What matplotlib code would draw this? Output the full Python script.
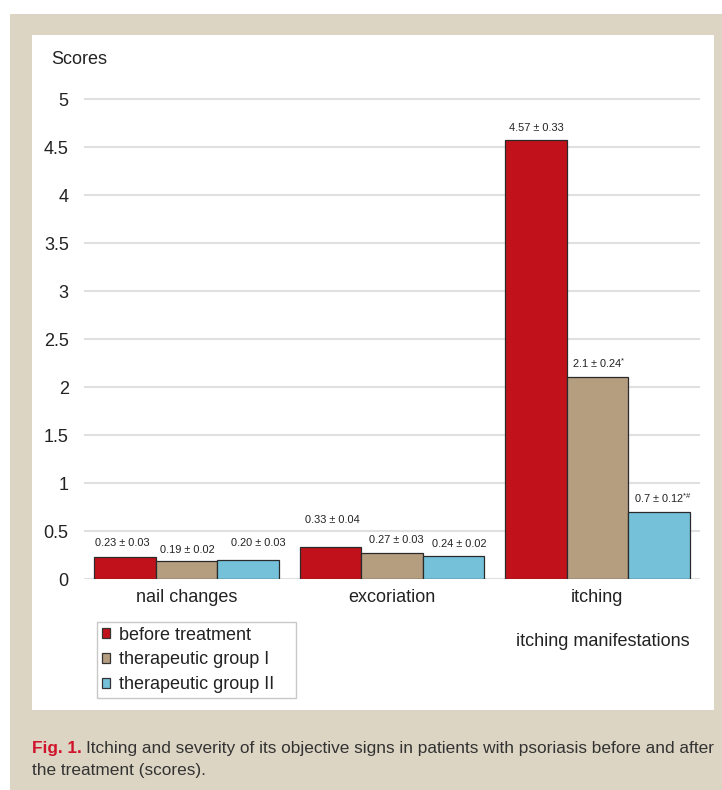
import matplotlib
matplotlib.use("Agg")
import matplotlib.pyplot as plt
from matplotlib.patches import Rectangle, Patch
import numpy as np

# ---- data ----
categories = ["nail changes", "excoriation", "itching"]
series_names = ["before treatment", "therapeutic group I", "therapeutic group II"]
before_treatment = [0.23, 0.33, 4.57]
group_I = [0.19, 0.27, 2.1]
group_II = [0.20, 0.24, 0.7]
labels_before = ["0.23 ± 0.03", "0.33 ± 0.04", "4.57 ± 0.33"]
labels_group_I = ["0.19 ± 0.02", "0.27 ± 0.03", "2.1 ± 0.24$^{*}$"]
labels_group_II = ["0.20 ± 0.03", "0.24 ± 0.02", "0.7 ± 0.12$^{*\\#}$"]
y_ticks = [0, 0.5, 1, 1.5, 2, 2.5, 3, 3.5, 4, 4.5, 5]
y_tick_labels = ["0", "0.5", "1", "1.5", "2", "2.5", "3", "3.5", "4", "4.5", "5"]

# ---- style ----
colors = ["#C1121C", "#B59E80", "#74C1D9"]
beige = "#DDD5C3"
W, H = 722, 790
main_font = ["Liberation Sans", "DejaVu Sans"]
plt.rcParams["font.family"] = main_font
plt.rcParams["mathtext.fontset"] = "custom"
plt.rcParams["mathtext.rm"] = "Liberation Sans"
plt.rcParams["mathtext.it"] = "Liberation Sans"

# label offsets in pixels (dx, dy) from bar top centre
offsets = [
    [(-3, 14), (2, 27), (1, 12.5)],
    [(1, 11), (4.5, 13), (1.5, 14.5)],
    [(10, 17), (6, 12), (4, 13.5)],
]

fig = plt.figure(figsize=(W / 100, H / 100), dpi=100)
fig.patch.set_facecolor("white")

def fx(px):
    return px / W

def fy(py):
    return 1 - py / H

# background frame
fig.patches.append(Rectangle((fx(10), 0), 1 - fx(10), fy(14), transform=fig.transFigure,
                             facecolor=beige, edgecolor="none", zorder=-3))
fig.patches.append(Rectangle((fx(32), fy(710)), fx(714) - fx(32), fy(35) - fy(710),
                             transform=fig.transFigure, facecolor="white",
                             edgecolor="none", zorder=-2))

ymax = 5.02
px_per_unit = 96.0
top_px = 579 - ymax * px_per_unit
ax = fig.add_axes([fx(84), fy(579), fx(700) - fx(84), fy(top_px) - fy(579)])
ax.set_facecolor("none")

x = np.arange(len(categories))
bw = 0.3
series = [before_treatment, group_I, group_II]
series_labels = [labels_before, labels_group_I, labels_group_II]
for i, (vals, labs) in enumerate(zip(series, series_labels)):
    pos = x + (i - 1) * bw
    ax.bar(pos, vals, width=bw, color=colors[i], edgecolor="#2a2a2a",
           linewidth=0.9, zorder=3)
    for j, (p, v, lab) in enumerate(zip(pos, vals, labs)):
        dx, dy = offsets[i][j]
        ax.annotate(lab, (p, v), xytext=(dx, dy), textcoords="offset pixels",
                    ha="center", va="center", fontsize=7.9,
                    color="#222222", zorder=4)

ax.set_xlim(-0.5, 2.5)
ax.set_ylim(0, ymax)
ax.set_yticks(y_ticks)
ax.set_yticklabels(y_tick_labels)
ax.set_xticks(x)
ax.set_xticklabels(categories)
ax.tick_params(axis="both", length=0, labelsize=13, colors="#222222")
ax.tick_params(axis="y", pad=11)
ax.tick_params(axis="x", pad=7, labelsize=13)
ax.yaxis.grid(True, color="#e0e0e0", linewidth=1.5, zorder=0)
ax.set_axisbelow(True)
for s in ax.spines.values():
    s.set_visible(False)

fig.text(fx(51), fy(59), "Scores", ha="left", va="center", fontsize=13, color="#222222")
fig.text(fx(690), fy(641), "itching manifestations", ha="right", va="center",
         fontsize=13, color="#222222")

handles = [Patch(facecolor=c, edgecolor="#333333", linewidth=0.9) for c in colors]
leg = fig.legend(handles, series_names, loc="upper left",
                 bbox_to_anchor=(fx(97), fy(699), fx(296) - fx(97), fy(622) - fy(699)),
                 bbox_transform=fig.transFigure, mode="expand",
                 borderaxespad=0, fontsize=13, handlelength=0.45, handleheight=0.45,
                 handletextpad=0.5, labelspacing=0.44, borderpad=0.25,
                 fancybox=False, edgecolor="#c8c8c8", framealpha=1)
leg.get_frame().set_linewidth(1.0)
for t in leg.get_texts():
    t.set_color("#222222")

# caption
cap_size = 12.4
cap1 = fig.text(fx(32), fy(749), "Fig. 1.", ha="left", va="center", fontsize=cap_size,
                weight="bold", color="#D0142C")
fig.canvas.draw()
r = fig.canvas.get_renderer()
bb = cap1.get_window_extent(r)
fig.text((bb.x1 + 4) / W, fy(749),
         "Itching and severity of its objective signs in patients with psoriasis before and after",
         ha="left", va="center", fontsize=cap_size, color="#333333")
fig.text(fx(32), fy(771), "the treatment (scores).", ha="left", va="center",
         fontsize=cap_size, color="#333333")

fig.savefig("out.png", dpi=100, facecolor=fig.get_facecolor())
